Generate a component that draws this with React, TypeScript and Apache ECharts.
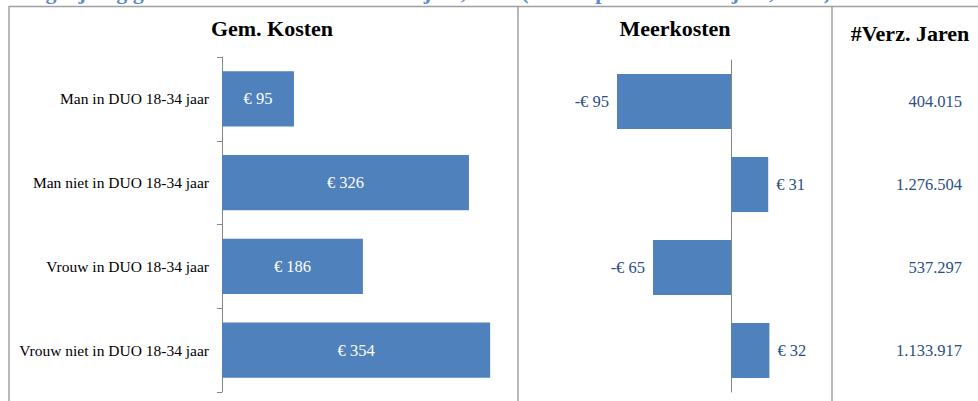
import React, { useEffect, useRef } from "react";
import * as echarts from "echarts";

const categories = [
  "Man in DUO 18-34 jaar",
  "Man niet in DUO 18-34 jaar",
  "Vrouw in DUO 18-34 jaar",
  "Vrouw niet in DUO 18-34 jaar",
];
const gemKosten = [95, 326, 186, 354];
const meerKosten = [-95, 31, -65, 32];
const verzJaren = [404015, 1276504, 537297, 1133917];
const headers = ["Gem. Kosten", "Meerkosten", "#Verz. Jaren"];
const titleText =
  "Vergelijking gemiddelde kosten DUO 18-34 jaar, 2017 (kosten per verzekerd jaar, 2017)";

const FONT = "'Liberation Serif', 'DejaVu Serif', serif";
const BAR = "#4F81BD";
const DARKBLUE = "#2A4F85";
const LINE = "#A0A0A0";

const fmtThousands = (v: number) =>
  String(v).replace(/\B(?=(\d{3})+(?!\d))/g, ".");
const fmtEuro = (v: number) => (v < 0 ? "-€ " + Math.abs(v) : "€ " + v);

export default function App() {
  const ref = useRef<HTMLDivElement>(null);
  useEffect(() => {
    if (!ref.current) return;
    const chart = echarts.init(ref.current, null, { renderer: "svg" });
    const headerStyle = {
      fontFamily: FONT,
      fontWeight: "bold",
      fill: "#000000",
      align: "center",
      verticalAlign: "middle",
    };
    const option: any = {
      animation: false,
      backgroundColor: "#ffffff",
      textStyle: { fontFamily: FONT },
      grid: [
        { left: 222, top: 57, width: 303, height: 335 },
        { left: 587, top: 60, width: 240, height: 332 },
        { left: 840, top: 60, width: 122, height: 332 },
      ],
      xAxis: [
        { gridIndex: 0, type: "value", min: 0, max: 400, show: false },
        { gridIndex: 1, type: "value", min: -120, max: 80, show: false },
        { gridIndex: 2, type: "value", min: 0, max: 1, show: false },
      ],
      yAxis: [
        {
          gridIndex: 0,
          type: "category",
          data: categories,
          inverse: true,
          axisLine: { show: true, lineStyle: { color: "#868686", width: 1 } },
          axisTick: { show: true, length: 5, lineStyle: { color: "#868686" } },
          axisLabel: {
            margin: 13,
            color: "#000000",
            fontFamily: FONT,
            fontSize: 15.5,
          },
          splitLine: { show: false },
        },
        {
          gridIndex: 1,
          type: "category",
          data: categories,
          inverse: true,
          axisLine: { show: true, onZero: true, lineStyle: { color: "#868686", width: 1 } },
          axisTick: { show: false },
          axisLabel: { show: false },
          splitLine: { show: false },
        },
        {
          gridIndex: 2,
          type: "category",
          data: categories,
          inverse: true,
          show: false,
        },
      ],
      series: [
        {
          type: "bar",
          xAxisIndex: 0,
          yAxisIndex: 0,
          data: gemKosten,
          barWidth: "66%",
          itemStyle: { color: BAR },
          label: {
            show: true,
            position: "inside",
            color: "#ffffff",
            fontFamily: FONT,
            fontSize: 16.5,
            formatter: (p: any) => fmtEuro(p.value),
          },
        },
        {
          type: "bar",
          xAxisIndex: 1,
          yAxisIndex: 1,
          data: meerKosten.map((v) => ({
            value: v,
            label: { position: v < 0 ? "left" : "right" },
          })),
          barWidth: "66%",
          itemStyle: { color: BAR },
          label: {
            show: true,
            distance: 8,
            color: DARKBLUE,
            fontFamily: FONT,
            fontSize: 16.5,
            formatter: (p: any) => fmtEuro(p.value),
          },
        },
        {
          type: "scatter",
          xAxisIndex: 2,
          yAxisIndex: 2,
          symbolSize: 0,
          itemStyle: { color: DARKBLUE, opacity: 1 },
          data: verzJaren.map((v, i) => [1, i]),
          label: {
            show: true,
            position: "left",
            distance: 0,
            color: DARKBLUE,
            opacity: 1,
            textBorderWidth: 0,
            fontFamily: FONT,
            fontSize: 16.5,
            formatter: (p: any) => fmtThousands(verzJaren[p.dataIndex]),
          },
        },
      ],
      graphic: [
        {
          type: "text",
          left: 12,
          top: -20,
          style: {
            text: titleText,
            fontFamily: FONT,
            fontSize: 22,
            fontWeight: "bold",
            fill: "#5B8ACB",
          },
        },
        { type: "line", shape: { x1: 9, y1: 6.5, x2: 978, y2: 6.5 }, style: { stroke: LINE, lineWidth: 1.5 } },
        { type: "line", shape: { x1: 9, y1: 6, x2: 9, y2: 401 }, style: { stroke: LINE, lineWidth: 1.5 } },
        { type: "line", shape: { x1: 518, y1: 6, x2: 518, y2: 401 }, style: { stroke: LINE, lineWidth: 1.5 } },
        { type: "line", shape: { x1: 832, y1: 6, x2: 832, y2: 401 }, style: { stroke: LINE, lineWidth: 1.5 } },
        { type: "text", x: 272, y: 28, style: { ...headerStyle, text: headers[0], fontSize: 22 } },
        { type: "text", x: 675, y: 28, style: { ...headerStyle, text: headers[1], fontSize: 22 } },
        { type: "text", x: 910, y: 33, style: { ...headerStyle, text: headers[2], fontSize: 22 } },
      ],
    };
    chart.setOption(option);
    return () => chart.dispose();
  }, []);
  return (
    <div
      ref={ref}
      style={{ position: "fixed", left: 0, top: 0, width: 978, height: 401 }}
    />
  );
}
